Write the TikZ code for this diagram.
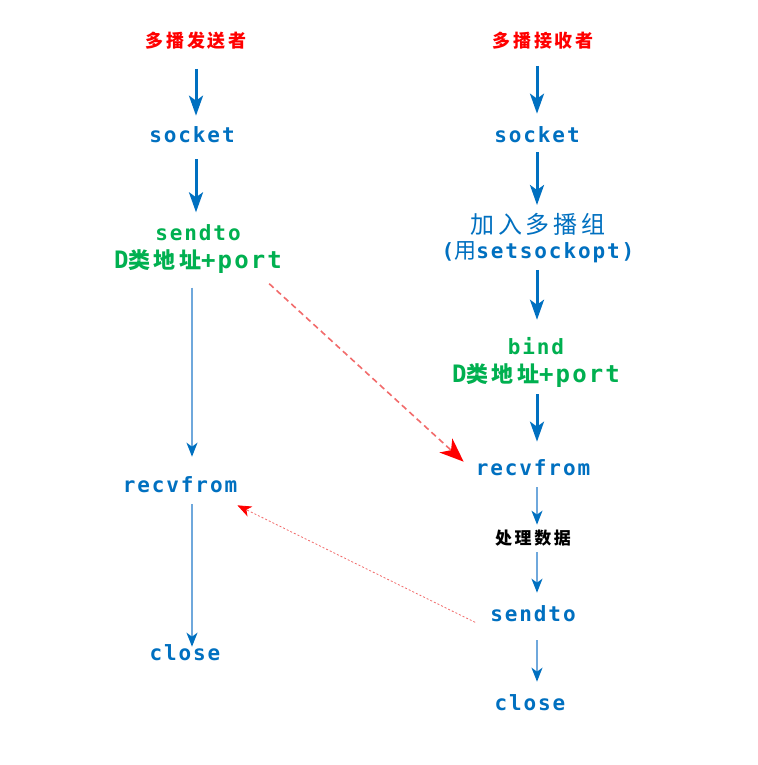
\documentclass[tikz,border=0pt]{standalone}
\usepackage{fontspec}
\usepackage{tikz}
\usetikzlibrary{arrows.meta}

\newfontfamily\zh{Noto Sans CJK SC}[LetterSpace=15]
\newfontfamily\lat{DejaVu Sans Mono}[LetterSpace=9]

\definecolor{txtB}{HTML}{0070C0}
\definecolor{txtG}{HTML}{00B050}
\definecolor{lineL}{HTML}{6FA8DC}
\definecolor{redD}{HTML}{FF0000}
\definecolor{redL}{HTML}{F26B6B}

\begin{document}
\begin{tikzpicture}[x=1pt, y=-1pt,
    title/.style={font=\zh\bfseries\fontsize{18}{20}\selectfont, text=redD, inner sep=0pt},
    api/.style={font=\lat\bfseries\fontsize{21}{28}\selectfont, text=txtB, inner sep=0pt},
    addr/.style={api, text=txtG, align=center},
    note/.style={font=\zh\bfseries\fontsize{17}{20}\selectfont, inner sep=0pt},
    flow/.style={-{Stealth[length=20pt, width=14pt, inset=5pt]}, line width=3pt, draw=txtB},
    thinflow/.style={-{Stealth[length=14pt, width=11pt, inset=4pt, color=txtB]}, line width=1.5pt, draw=lineL},
    bcast/.style={-{Stealth[length=24pt, width=19pt, inset=7pt, color=redD]}, line width=1.6pt, draw=redL, dash pattern=on 6pt off 4pt},
    reply/.style={-{Stealth[length=14pt, width=11pt, inset=4pt, color=redD]}, line width=0.8pt, draw=redL, dash pattern=on 2pt off 2pt},
]
\fill[white] (0,0) rectangle (757,765);

% === Sender ===
\node[title] (titleL) at (196,41) {多播发送者};
\node[api] (sockL) at (192,135) {socket};
\node[addr] (sendL) at (198,249) {sendto\\{\fontsize{24}{28}\selectfont D{\zh\fontsize{22}{28}\selectfont 类地址}+port}};
\node[api] (recvL) at (180,485) {recvfrom};
\node[api] (closeL) at (185,653) {close};

\draw[flow, shorten <=19pt, shorten >=11pt] (titleL.south) -- (titleL |- sockL.north);
\draw[flow, shorten <=16pt, shorten >=12pt] (titleL |- sockL.south) -- (titleL |- sendL.north);
\draw[thinflow, shorten <=14pt, shorten >=20pt] (sockL |- sendL.south) -- (sockL |- recvL.north);
\draw[thinflow, shorten <=11pt, shorten >=-2pt] (sockL |- recvL.south) -- (sockL |- closeL.north);

% === Receiver ===
\node[title] (titleR) at (543,41) {多播接收者};
\node[api] (sockR) at (537,135) {socket};
\node[api, align=center, font=\lat\bfseries\fontsize{21}{25}\selectfont] (joinR) at (538,238)
  {{\zh\mdseries\fontsize{24}{25}\selectfont 加入多播组}\\({\zh\mdseries\fontsize{22}{25}\selectfont 用}setsockopt)};
\node[addr] (bindR) at (536,362) {bind\\{\fontsize{24}{28}\selectfont D{\zh\fontsize{22}{28}\selectfont 类地址}+port}};
\node[api] (recvR) at (533,468) {recvfrom};
\node[note] (procR) at (533,538) {处理数据};
\node[api] (sendR) at (533,614) {sendto};
\node[api] (closeR) at (530,703) {close};

\draw[flow, shorten <=16pt, shorten >=13pt] (sockR |- titleR.south) -- (sockR.north);
\draw[flow, shorten <=9pt, shorten >=8pt] (sockR.south) -- (sockR |- joinR.north);
\draw[flow, shorten <=7pt, shorten >=17pt] (sockR |- joinR.south) -- (sockR |- bindR.north);
\draw[flow, shorten <=7pt, shorten >=18pt] (sockR |- bindR.south) -- (sockR |- recvR.north);
\draw[thinflow, shorten <=11pt, shorten >=5pt] (sockR |- recvR.south) -- (sockR |- procR.north);
\draw[thinflow, shorten <=6pt, shorten >=13pt] (sockR |- procR.south) -- (sockR |- sendR.north);
\draw[thinflow, shorten <=18pt, shorten >=13pt] (sockR |- sendR.south) -- (sockR |- closeR.north);

% === Cross traffic ===
\draw[bcast] ([shift={(-13,10)}]sendL.south east) -- ([shift={(-12,2)}]recvR.north west);
\draw[reply] ([shift={(-15,0)}]sendR.south west) -- ([shift={(0,12)}]recvL.south east);
\end{tikzpicture}
\end{document}
